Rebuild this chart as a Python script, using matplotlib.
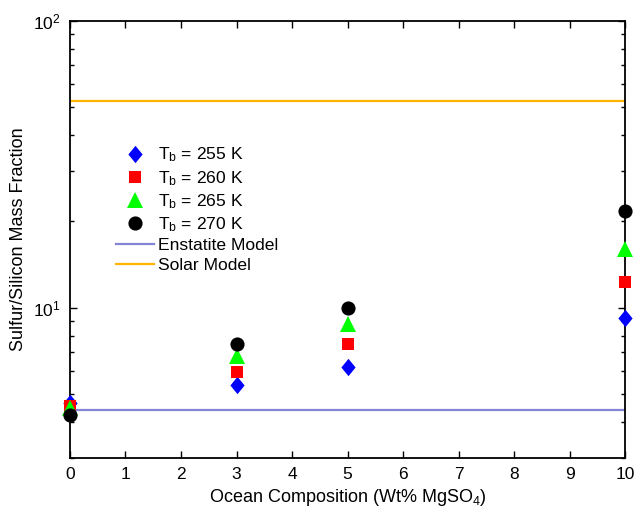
import matplotlib
matplotlib.use("Agg")
import matplotlib.pyplot as plt
from matplotlib.path import Path
import numpy as np

plt.rcParams['font.family'] = ['Liberation Sans', 'DejaVu Sans']
plt.rcParams['mathtext.fontset'] = 'custom'
plt.rcParams['mathtext.rm'] = 'Liberation Sans'
plt.rcParams['mathtext.it'] = 'Liberation Sans:italic'

# Data
composition = [0, 3, 5, 10]
tb_255 = [4.65, 5.40, 6.20, 9.18]
tb_260 = [4.55, 5.97, 7.46, 12.3]
tb_265 = [4.48, 6.79, 8.80, 16.0]
tb_270 = [4.22, 7.49, 10.0, 21.7]
series_labels = ['T$_\\mathrm{b}$ = 255 K', 'T$_\\mathrm{b}$ = 260 K',
                 'T$_\\mathrm{b}$ = 265 K', 'T$_\\mathrm{b}$ = 270 K']
enstatite_value = 4.40
solar_value = 52.5
x_range = [0, 10]

diamond = Path([(0, 1), (0.82, 0), (0, -1), (-0.82, 0), (0, 1)],
               [Path.MOVETO, Path.LINETO, Path.LINETO, Path.LINETO, Path.CLOSEPOLY])

fig = plt.figure(figsize=(6.36, 5.19), dpi=100)
ax = fig.add_axes([0.110, 0.118, 0.873, 0.842])

ax.plot(x_range, [enstatite_value] * 2, color='#8585d6', lw=1.6, label='Enstatite Model', zorder=2)
ax.plot(x_range, [solar_value] * 2, color='#ffb400', lw=1.6, label='Solar Model', zorder=2)

h1, = ax.plot(composition, tb_255, linestyle='none', marker=diamond, ms=12.5, color='#0000ff',
              mew=0, label=series_labels[0], clip_on=False, zorder=5)
h2, = ax.plot(composition, tb_260, linestyle='none', marker='s', ms=8.2, color='#ff0000',
              mew=0, label=series_labels[1], clip_on=False, zorder=5)
h3, = ax.plot(composition, tb_265, linestyle='none', marker='^', ms=11.5, color='#00ff00',
              mew=0, label=series_labels[2], clip_on=False, zorder=5)
h4, = ax.plot(composition, tb_270, linestyle='none', marker='o', ms=10.2, color='#000000',
              mew=0, label=series_labels[3], clip_on=False, zorder=5)

ax.set_yscale('log')
ax.set_xlim(0, 10)
ax.set_ylim(3, 100)
ax.set_xticks(range(0, 11))

ax.tick_params(which='both', direction='in', top=True, right=True, labelsize=12.5, width=1)
ax.tick_params(which='major', length=5, pad=7)
ax.tick_params(which='minor', length=3)
ax.tick_params(axis='x', which='minor', top=False, bottom=False)
for s in ax.spines.values():
    s.set_linewidth(1.3)

ax.set_xlabel('Ocean Composition (Wt% MgSO$_4$)', fontsize=13, labelpad=3)
ax.set_ylabel('Sulfur/Silicon Mass Fraction', fontsize=13, labelpad=4)

handles, labels = ax.get_legend_handles_labels()
order = [2, 3, 4, 5, 0, 1]
leg = ax.legend([handles[i] for i in order], [labels[i] for i in order],
                loc='upper left', bbox_to_anchor=(0.071, 0.730), frameon=False,
                fontsize=12.6, handlelength=2.15, handletextpad=0.25,
                labelspacing=0.25, borderaxespad=0)

fig.savefig('out.png', dpi=100)
